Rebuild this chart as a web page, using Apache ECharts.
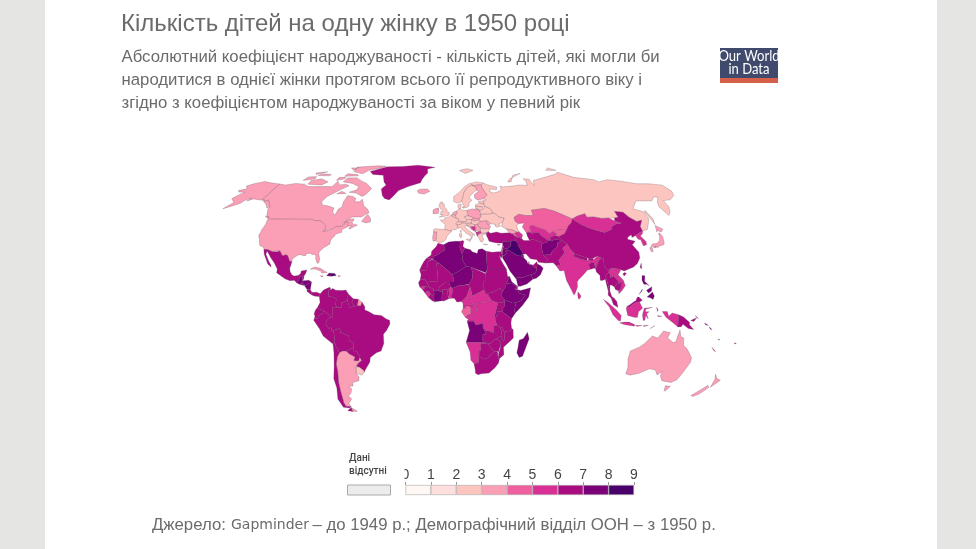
<!DOCTYPE html>
<html><head><meta charset="utf-8">
<style>html,body{margin:0;padding:0;background:#e5e5e3}#c{width:976px;height:549px}</style>
<script src="https://cdn.jsdelivr.net/npm/echarts@6/dist/echarts.min.js"></script>
</head><body><div id="c"></div>
<script>
const titleText = "Кількість дітей на одну жінку в 1950 році";
const subtitleLines = ["Абсолютний коефіцієнт народжуваності - кількість дітей, які могли би","народитися в однієї жінки протягом всього її репродуктивного віку і","згідно з коефіцієнтом народжуваності за віком у певний рік"];
const legendTicks = [0,1,2,3,4,5,6,7,8,9];
const binColors = ["#fff7f3","#fde0dd","#fcc5c0","#fa9fb5","#f0609f","#d93095","#a90c80","#7a0177","#49006a"];

const countries = ["Canada","USA","Greenland","Mexico","Guatemala","Belize","El Salvador","Honduras","Nicaragua","Costa Rica","Panama","Cuba","Haiti","Dominican Rep.","Jamaica","Puerto Rico","Trinidad","Colombia","Venezuela","Guyana","Suriname","French Guiana","Brazil","Ecuador","Peru","Bolivia","Paraguay","Uruguay","Argentina","Chile",
"Iceland","Ireland","UK","Norway","Svalbard","Sweden","Finland","Denmark","Estonia","Latvia","Lithuania","Poland","Germany","Netherlands","Belgium","France","Spain","Portugal","Switzerland","Austria","Italy","Czechia","Slovakia","Hungary","Slovenia","Croatia","Bosnia","Serbia","Montenegro","Albania","N. Macedonia","Greece","Bulgaria","Romania","Moldova","Ukraine","Belarus","Russia",
"Turkey","Georgia","Armenia","Azerbaijan","Kazakhstan","Uzbekistan","Turkmenistan","Kyrgyzstan","Tajikistan","Afghanistan","Pakistan","Iran","Iraq","Syria","Lebanon","Israel","Jordan","Saudi Arabia","Kuwait","Yemen","Oman","UAE","Qatar","Cyprus",
"India","Bangladesh","Nepal","Bhutan","Sri Lanka","China","Taiwan","Mongolia","N. Korea","S. Korea","Japan","Myanmar","Thailand","Laos","Vietnam","Cambodia","Malaysia","Indonesia","PNG","Solomon Is.","Vanuatu","New Caledonia","Fiji","Philippines","Australia","New Zealand",
"Morocco","W. Sahara","Algeria","Tunisia","Libya","Egypt","Mauritania","Mali","Senegal","Guinea-Bissau","Guinea","Sierra Leone","Liberia","Ivory Coast","Ghana","Burkina Faso","Togo","Benin","Niger","Nigeria","Chad","Cameroon","CAR","Sudan","S. Sudan","Eritrea","Ethiopia","Djibouti","Somalia","Kenya","Uganda","Tanzania","Rwanda","Burundi","DR Congo","Congo","Gabon","Eq. Guinea","Angola","Zambia","Malawi","Mozambique","Zimbabwe","Namibia","Botswana","South Africa","Madagascar"];
const fertility = [3.6,3.3,6.5,6.7,7.0,6.7,6.4,7.5,7.0,6.6,6.2,3.9,7.6,8.2,4.2,5.0,5.3,6.7,6.5,6.1,6.3,3.8,6.1,6.7,6.9,6.7,6.5,2.7,3.2,6.4,
3.7,3.4,2.2,2.6,2.6,2.2,3.0,2.6,2.5,2.5,2.8,3.6,2.2,3.0,2.3,2.8,2.5,3.0,2.3,2.1,2.4,2.7,3.5,2.6,2.8,2.9,5.0,3.2,4.5,5.6,5.5,2.3,2.5,3.0,3.5,2.8,2.6,2.9,
6.7,3.0,4.5,5.0,4.5,5.8,6.0,4.6,6.0,7.6,6.6,6.9,8.4,7.2,5.7,4.3,7.4,7.2,7.2,7.3,7.2,6.9,6.9,3.6,
5.9,6.7,6.0,6.6,5.9,6.1,6.7,5.5,5.0,5.6,3.0,6.0,6.1,5.9,5.4,6.3,6.8,5.5,6.2,7.2,7.3,5.3,6.6,7.4,3.2,3.6,
6.6,6.6,7.3,6.9,7.3,6.6,6.3,6.9,6.3,5.6,6.4,5.5,6.1,7.5,6.4,6.1,6.6,5.9,7.5,6.4,6.3,5.5,5.5,6.7,6.7,7.0,7.2,6.3,7.2,7.4,6.9,6.7,7.5,6.8,5.9,5.7,4.0,5.6,7.3,6.7,6.8,6.6,6.8,5.5,6.5,6.4,7.3];

const outlines = {
"Canada":["-141,69.6 -135,69 -128,70 -120,69.5 -115,68 -108,68 -100,68 -95,68 -94,71.5 -90,69 -85,69.5 -81.5,68.5 -87,65.5 -93,62 -94.5,59 -92.5,57 -88,56.5 -82.5,55.2 -82,52.9 -79.5,51.3 -79,52.5 -79,54.5 -77,56 -78,58.5 -77.5,62.4 -73,62 -70,60.8 -69.5,58.8 -66,58.8 -64.5,60.3 -61.5,56.5 -57.5,54.5 -55.7,52.5 -58.5,51.3 -60,50.2 -66.5,50.2 -69,48.5 -71,46.9 -68,48.8 -65,49.2 -64.5,48.2 -65.5,47.3 -64,46.2 -61,45.8 -63.5,44.6 -65.8,43.5 -66,44.3 -64.5,45.3 -67,45.1 -67.8,45.7 -67.8,47.07 -68.3,47.3 -69.2,47.45 -70.3,46.2 -70.8,45.4 -71.5,45 -74.7,45 -76.3,44.2 -76.8,43.6 -79,43.3 -79,42.8 -82.7,41.7 -83.1,42.2 -82.5,42.6 -82.1,43.6 -82.5,45.3 -83.5,46 -84.5,46.5 -84.9,46.9 -88.4,48.3 -89.6,48 -92,48.3 -94.6,48.7 -95.2,49 -123,49 -127,50.8 -130,54.5 -130,55.9 -133.5,58.4 -135.5,59.7 -137.5,58.9 -139,60 -141,60.3",
"-61.5,66.5 -64,63 -66,62 -72,64 -78,64.5 -73,66 -73,68 -80,70 -89,71 -88,73.5 -80,73.7 -75,72 -68,70 -62,67","-105,69 -117,69.5 -118,72 -110,73 -102,71","-116,73 -125,72 -124,74.3 -117,74.5","-62,82.5 -70,83 -90,81.7 -88,78 -78,76.5 -75,79 -66,81","-80,75 -92,74.7 -92,76.5 -82,76","-90,79 -95,81 -88,81","-106,75 -117,75.3 -115,76.5 -106,76","-90,73 -96,72 -96,74 -90,74","-59,47.7 -55.5,46.9 -52.7,47.5 -53.5,49.5 -56,51.5 -57.5,50.5","-123.5,48.4 -128,50.7 -125,50.3","-84,65 -80,63.8 -87,63.5","-113,78 -120,76 -122,77"],
"USA":["-124.7,48.4 -123,49 -95.2,49 -94.6,48.7 -92,48.3 -89.6,48 -88.4,48.3 -84.9,46.9 -84.5,46.5 -83.5,46 -82.5,45.3 -82.1,43.6 -82.5,42.6 -83.1,42.2 -82.7,41.7 -79,42.8 -79,43.3 -76.8,43.6 -76.3,44.2 -74.7,45 -71.5,45 -70.8,45.4 -70.3,46.2 -69.2,47.45 -68.3,47.3 -67.8,47.07 -67.8,45.7 -67,44.9 -69,44 -70.2,43.6 -70.7,42.7 -70,41.8 -71.3,41.5 -73.9,40.7 -74.2,39.6 -75.4,38.4 -75.9,37.2 -75.7,35.5 -77,34.6 -78.5,33.8 -80,32.6 -81.3,31.3 -81.4,30.4 -80.5,28.4 -80,26.8 -80.3,25.3 -81.1,25.1 -81.8,26.1 -82.7,27.7 -82.8,29 -84,30 -85.3,29.7 -86.5,30.4 -89,30.4 -89.4,29.2 -90.5,29.2 -92,29.6 -94,29.7 -95.5,28.7 -97.2,27.6 -97.2,25.95 -99.1,26.4 -99.5,27.5 -101,29.4 -102.7,29.7 -103.2,29 -104.5,29.6 -106.5,31.75 -108.2,31.75 -108.2,31.33 -111.1,31.33 -114.8,32.5 -117.1,32.53 -117.3,33.1 -118.5,34 -120.6,34.6 -121.9,36.6 -122.5,37.8 -123.8,39.3 -124.4,40.4 -124.1,41.9 -124.5,42.8 -124,46.2",
"-141,69.6 -141,60.3 -139,60 -137.5,58.9 -135.5,59.7 -133.5,58.4 -130,55.9 -131.5,55.2 -134,57 -136.5,58.2 -140,59.7 -144,60 -148,60.5 -151.5,59.3 -150.5,61.2 -153.5,59.5 -154.5,58 -158,56.5 -163,54.8 -160,58.5 -162,59.3 -165,60.7 -163,63 -161,64.5 -166,64.6 -168,65.6 -163,66.6 -166.5,68.3 -163,69.8 -156.5,71.3 -150,70.4"],
"Greenland":["-73,78.2 -68,76 -58,75.5 -54,71 -51,69 -53.5,66.5 -50.5,62.5 -48,60.8 -44,59.9 -42,62 -39,65.5 -32,68 -22.5,70.5 -22,72.5 -20,75 -18,77 -19,80 -12,81.5 -30,83.5 -45,82.3 -60,82 -65,80.5"],
"Mexico":["-117.1,32.53 -114.8,32.5 -111.1,31.33 -108.2,31.33 -108.2,31.75 -106.5,31.75 -104.5,29.6 -103.2,29 -102.7,29.7 -101,29.4 -99.5,27.5 -99.1,26.4 -97.2,25.95 -97.8,22.3 -97.2,20.6 -95.9,18.9 -94.5,18.2 -92,18.6 -90.6,19.5 -90.4,21 -87,21.5 -87.5,19.5 -88.2,18.5 -89.15,17.9 -91,17.8 -90.9,16.8 -92.2,14.55 -94,16 -96.5,15.7 -99.5,16.6 -102,18 -105.5,20 -105.5,22 -108,25.2 -109.4,26.6 -111,28 -112.8,30 -114.7,31.7 -114.7,30 -112,26.5 -110,24.2 -109.5,23 -112,24.7 -114,27.5 -115.8,30"],
"Guatemala":["-92.2,14.55 -90.9,16.8 -91,17.8 -89.15,17.9 -89.15,15.9 -88.2,15.7 -89.2,14.5 -90.1,13.75"],
"Belize":["-89.15,17.9 -88.2,18.5 -88.3,16.5 -89.15,15.9"],
"El Salvador":["-90.1,13.75 -89.2,14.5 -87.7,13.8 -87.8,13.2"],
"Honduras":["-89.2,14.5 -88.2,15.7 -85,16 -83.2,15 -85,14 -87.3,13 -87.8,13.2 -87.7,13.8"],
"Nicaragua":["-87.3,13 -85,14 -83.2,15 -83.6,11 -85.7,11.1"],
"Costa Rica":["-85.7,11.1 -83.6,11 -82.6,9.5 -83,8.3 -85.5,10"],
"Panama":["-83,8.3 -82.6,9.5 -79.5,9.6 -77.4,8.7 -77.9,7.2 -80.3,7.4 -81.5,7.7"],
"Cuba":["-84.9,21.9 -82.5,23.1 -79,22.5 -75.5,20.7 -74.2,20.2 -77.7,19.9 -78,20.8 -82,22"],
"Haiti":["-74.4,18.4 -71.7,18.1 -71.7,19.8 -73,19.9"],
"Dominican Rep.":["-71.7,18.1 -68.4,18.5 -69.5,19.6 -71.7,19.8"],
"Jamaica":["-78.3,18.4 -76.3,18.2 -77.2,17.8"],
"Puerto Rico":["-67.2,18.4 -65.7,18.3 -65.9,18 -67.2,18"],
"Trinidad":["-61.7,10.2 -61,10.6 -61,10.1"],
"Colombia":["-77.4,8.7 -75.5,10.7 -72,12.2 -71.3,11.8 -72.5,10.5 -72.4,7.4 -70,7 -67.5,6.1 -67.8,2.8 -66.9,1.2 -69.8,1.7 -69.9,-4.2 -70.7,-3.8 -72,-2.5 -75.2,-0.1 -77.5,0.4 -78.8,1.4 -77.3,4 -77.9,7.2"],
"Venezuela":["-71.3,11.8 -71.5,10.8 -69.8,11.5 -68,10.6 -64,10.5 -62,10.7 -60,8.5 -61,6.8 -60.7,5.2 -63,4 -64.5,4.1 -64,1.5 -66.9,1.2 -67.8,2.8 -67.5,6.1 -70,7 -72.4,7.4 -72.5,10.5"],
"Guyana":["-60,8.5 -57.2,6 -58,4 -56.5,1.9 -59,1.3 -59.9,3 -60.7,5.2 -61,6.8"],
"Suriname":["-57.2,6 -54,5.8 -54.5,2.3 -56.5,1.9 -58,4"],
"French Guiana":["-54,5.8 -51.7,4.2 -52.5,2.2 -54.5,2.3"],
"Brazil":["-51.7,4.2 -50,1.7 -50,0 -48,-0.7 -44.3,-2.6 -40,-2.9 -37,-4.8 -35,-5.5 -34.8,-7.5 -37,-11 -39,-13 -39,-18 -41,-22 -44,-23 -48,-25.5 -48.6,-28 -52,-32 -53.4,-33.7 -53.2,-32.7 -55.5,-30.9 -57.6,-30.2 -55.8,-28.3 -53.7,-27.1 -54.6,-25.6 -54.3,-24 -55.5,-24 -55.9,-22.3 -58,-22 -58,-20 -57.6,-18 -60.2,-16.2 -60.3,-13.8 -65.3,-11.9 -65.4,-9.8 -69.5,-11 -70.6,-11 -70.7,-9.4 -72.2,-10 -74,-7.5 -73,-5 -70.7,-3.8 -69.9,-4.2 -69.8,1.7 -66.9,1.2 -64,1.5 -64.5,4.1 -63,4 -60.7,5.2 -59.9,3 -59,1.3 -56.5,1.9 -54.5,2.3 -52.5,2.2"],
"Ecuador":["-78.8,1.4 -77.5,0.4 -75.2,-0.1 -75.5,-1.6 -78.3,-3.4 -78.6,-4.6 -80.3,-4.5 -80.3,-3.4 -80.9,-2.2 -80,0"],
"Peru":["-75.2,-0.1 -72,-2.5 -70.7,-3.8 -73,-5 -74,-7.5 -72.2,-10 -70.7,-9.4 -70.6,-11 -69.5,-11 -69,-15.5 -69.5,-17.5 -70.4,-18.3 -76,-14 -78,-10 -81.2,-5.5 -80.3,-3.4 -80.3,-4.5 -78.6,-4.6 -78.3,-3.4 -75.5,-1.6"],
"Bolivia":["-69.5,-11 -65.4,-9.8 -65.3,-11.9 -60.3,-13.8 -60.2,-16.2 -57.6,-18 -58,-20 -62.6,-22.2 -65,-22.1 -67,-23 -68.5,-20 -69.5,-17.5 -69,-15.5"],
"Paraguay":["-58,-20 -58,-22 -55.9,-22.3 -55.5,-24 -54.3,-24 -54.6,-25.6 -55.7,-27.4 -58.6,-27.2 -57.7,-25.2 -61,-23.7 -62.6,-22.2"],
"Uruguay":["-57.6,-30.2 -55.5,-30.9 -53.2,-32.7 -53.4,-33.7 -54.9,-35 -58.4,-34 -58.1,-32"],
"Argentina":["-65,-22.1 -62.6,-22.2 -61,-23.7 -57.7,-25.2 -58.6,-27.2 -55.7,-27.4 -54.6,-25.6 -53.7,-27.1 -55.8,-28.3 -57.6,-30.2 -58.1,-32 -58.4,-34 -57,-36 -57.6,-38 -62,-39 -62.3,-40.8 -65,-41 -63.7,-42.5 -65.3,-45 -67.5,-46.3 -65.8,-47.8 -69,-50.5 -68.4,-52.3 -71.9,-52 -72.3,-50 -71.7,-44 -71.2,-39 -70,-33 -70,-29 -68.5,-25 -67,-23","-68.6,-52.7 -65.2,-54.8 -68.6,-54.9"],
"Chile":["-70.4,-18.3 -69.5,-17.5 -68.5,-20 -67,-23 -68.5,-25 -70,-29 -70,-33 -71.2,-39 -71.7,-44 -72.3,-50 -71.9,-52 -68.4,-52.3 -70,-53 -74,-52.5 -75.5,-48 -73.5,-42 -73.7,-37 -71.5,-30 -70.4,-23","-68.6,-52.7 -68.6,-54.9 -72,-54.5"],
"Iceland":["-24,65.5 -22,66.4 -16,66.5 -13.6,65 -18,63.4 -22.5,63.9"],
"Ireland":["-10,52 -6.3,52.2 -6,53.5 -6,54.2 -7.3,55.2 -10,54.2"],
"UK":["-5.5,50 -1,50.7 1.4,51.2 1.7,52.7 0.2,53 -0.2,54.5 -2,55.8 -2,57.6 -4,57.7 -3,58.6 -5,58.6 -6,56.5 -4.8,54.8 -3,54 -3,53.3 -4.5,53.2 -4.2,52 -5.2,51.8 -3,51.4","-6,54.2 -5.5,54.5 -6.3,55.2 -7.3,55.2"],
"Norway":["5,59 5.2,61.9 10,64.5 14.5,68 19,70 25.5,71 31,70.2 29,69.1 25.8,69 23,68.6 20.5,69 16,67 13.6,64.5 12,61 11,59 8,58"],
"Svalbard":["12,79 20,80.3 25,79 17,76.7"],
"Sweden":["11,59 12,61 13.6,64.5 16,67 20.5,69 23.6,67.8 24,65.8 21.5,64.5 17.5,62 17.5,60.5 19,59.8 16.5,58 16,56.2 14.3,55.5 12.9,55.4 12,57.5"],
"Finland":["23.6,67.8 20.5,69 23,68.6 25.8,69 29,69.1 28.5,68 30,65 31.5,62.8 27.8,60.5 23,59.9 21.3,61 21.3,63 25.3,65 24,65.8"],
"Denmark":["8.1,55.5 8.1,57 10.6,57.7 10.3,55.9 9.7,54.85 8.6,54.9","11,55.7 12.5,56 12.4,55"],
"Estonia":["23.5,59.2 28,59.4 27.4,57.6 24.4,58"],
"Latvia":["21,57 23.5,57.8 24.4,58 27.4,57.6 28.2,56.1 26,55.7 21,56.3"],
"Lithuania":["21,56.3 26,55.7 26.6,54.9 25,54 23.4,54 21,55.2"],
"Poland":["14.2,53.9 18.5,54.8 19.8,54.4 23.4,54 24,52.3 23.6,51.5 24,50.6 22.7,49.2 19,49.4 14.8,50.9 14.7,52"],
"Germany":["7,53.5 8.6,54.9 9.7,54.85 11,54 14.2,53.9 14.7,52 14.8,50.9 12.2,50.3 13.8,48.7 13,47.5 7.6,47.6 8.2,49 6.2,49.5 6,51 7,52.2"],
"Netherlands":["3.4,51.4 4.8,53 7,53.5 7,52.2 6,51"],
"Belgium":["2.6,51.1 3.4,51.4 6,51 6.2,49.5 4.9,50"],
"France":["2.6,51.1 4.9,50 6.2,49.5 8.2,49 7.6,47.6 6,46.4 7,45.9 7,44 7.5,43.8 6,43.1 3.5,43.3 3.1,42.4 -1.7,43.3 -1.2,46 -4.7,48.4 -1.6,48.7 -1.6,49.7 1.5,50.2","8.6,42.4 9.5,43 9.4,41.5"],
"Spain":["-1.7,43.3 3.1,42.4 3.2,41.9 0,39.8 -0.5,38.3 -2,36.8 -5.4,36.1 -7.4,37.2 -7,39 -6.9,41.9 -8.9,41.9 -9.2,43.1 -8,43.7"],
"Portugal":["-8.9,41.9 -6.9,41.9 -7,39 -7.4,37.2 -9,37 -9.5,38.8"],
"Switzerland":["6,46.4 7.6,47.6 9.6,47.5 10.4,46.9 9,46 7,45.9"],
"Austria":["9.6,47.5 13,47.5 13.8,48.7 17,48.8 17,47 16,46.8 12.4,46.7 10.4,46.9"],
"Italy":["7,45.9 9,46 10.4,46.9 12.4,46.7 13.7,46.5 13.7,45.6 12.3,45.3 12.4,44.2 13.6,43.5 16,41.9 18.5,40.2 17,40.5 16.6,39 16,38 15.7,39.8 12.5,41.4 10.5,43 8.8,44.4 7.5,43.8 7,44","12.5,38 15.6,38.2 15.1,36.7","8.2,41 9.7,41 9.6,39.1 8.5,39"],
"Czechia":["12.2,50.3 14.8,50.9 16.8,50.2 18.8,49.5 17,48.8 13.8,48.7"],
"Slovakia":["17,48.8 18.8,49.5 19,49.4 22.7,49.2 22.1,48.4 18.8,47.8"],
"Hungary":["16,46.8 17,47 17,48.8 18.8,47.8 22.1,48.4 22.9,47.9 21,46.2 18.8,45.9 16.5,46.5"],
"Slovenia":["13.7,46.5 16,46.8 16.5,46.5 15.3,45.5 13.7,45.6"],
"Croatia":["13.6,45 13.7,45.6 15.3,45.5 16.5,46.5 18.8,45.9 19,45 15.8,44.8 17.5,43 18.4,42.5 16,43.5 15,44.6"],
"Bosnia":["15.8,44.8 19,45 19.5,44 18.5,42.6 17.5,43"],
"Serbia":["19,45 18.8,45.9 21,46.2 21.4,44.8 22.6,44.2 22.4,42.5 20.8,42 19.6,43.1 19.5,44"],
"Montenegro":["18.5,42.6 19.6,43.1 20.2,42.7 19.3,41.9 18.4,42.5"],
"Albania":["19.3,41.9 20.6,41.9 21,40.6 20,39.7 19.4,40.7"],
"N. Macedonia":["20.6,41.9 20.8,42 22.4,42.5 23,41.3 21,40.9"],
"Greece":["20,39.7 21,40.6 23,41.3 26.3,41.6 26,40.9 23,40.3 24,38 23,36.5 21.7,36.8 21.2,38.3","23.5,35.5 26.3,35.2 24.5,35"],
"Bulgaria":["22.4,42.5 22.6,44.2 25,43.7 28.6,43.8 27.7,42 26.3,41.6 23,41.3"],
"Romania":["21,46.2 22.9,47.9 24.9,47.8 26.6,48.3 28.2,45.5 29.7,45.1 28.6,43.8 25,43.7 22.6,44.2 21.4,44.8"],
"Moldova":["26.6,48.3 28.3,48 30,46.4 28.2,45.5"],
"Ukraine":["22.7,49.2 24,50.6 23.6,51.5 26,51.9 31,52 32,52.3 34.2,52.3 36,50.4 40,49.6 38.2,47.1 35,46.2 36.5,45.3 33.5,44.5 32.5,45.5 33.5,46 30.8,46.4 30,46.4 28.3,48 26.6,48.3 24.9,47.8 22.9,47.9 22.1,48.4"],
"Belarus":["23.6,51.5 24,52.3 23.4,54 25,54 26.6,54.9 28.2,56.1 31,55 32.7,53.4 31,52 26,51.9"],
"Russia":["31,70.2 33,69.3 41,67.6 40,66 35,66.5 34,65 37,64 40.5,64.7 44,66 44,68.4 46,67.8 54,68.3 60,69 67,68.8 68,71.5 67,73 72,72.8 72.5,68.5 75,72 78,72.5 87,74 100,76.3 104,77.7 113,74 112,73.8 128,72.5 130,71 140,72.5 150,71.5 160,69.8 170,69.8 180,68.9 180,65 177,62.5 170,60 164,59.5 163,56 160,53 156.7,51 155.7,56 158,58.5 163,61.5 160,61.7 155,59.3 143,59.3 135.2,54.8 141.4,53 140.5,49 135,43.5 130.7,42.3 131,44.9 135,48.4 131,47.7 127.5,50 126,52.8 120.5,53.3 120,50 117,49.6 113,49.6 108,49.4 103,50.2 98,50 98,52 91.8,50.7 87.3,49.1 83,51 77,53.5 71,55 61,54 61,51 55,51 51,51.7 47,50 47,48 49,46.5 47.5,45.5 47.5,43.5 48.4,41.8 46.5,41.9 43.5,43.2 40,43.5 37,45 38.2,47.1 40,49.6 36,50.4 34.2,52.3 32,52.3 32.7,53.4 31,55 28.2,56.1 27.4,57.6 28,59.4 30,60 27.8,60.5 31.5,62.8 30,65 28.5,68 29,69.1","52,71 55,73 68,76.8 60,75.5 55,71","142,46 143.5,49 143,54 142,53 142,48","95,79 105,79 100,81","21,55.2 22.8,54.4 19.8,54.4"],
"Turkey":["26.3,41.6 27.7,42 29,41.2 33,42 36,41.3 41.5,41.5 43.5,41 44.8,39.7 44.5,37.2 42.4,37.1 36.7,36.8 36,36 32.5,36 30.5,36.3 27.4,37 26.5,39.3 26,40"],
"Georgia":["40,43.5 43.5,43.2 46.5,41.9 45,41.2 43.5,41 41.5,41.5"],
"Armenia":["43.5,41 45,41.2 46.5,39 44.8,39.7"],
"Azerbaijan":["46.5,41.9 48.4,41.8 50,40.4 48.9,38.4 46.5,39 45,41.2"],
"Kazakhstan":["47,48 47,50 51,51.7 55,51 61,51 61,54 71,55 77,53.5 83,51 87.3,49.1 85.5,47 82.5,45.3 80,42.8 74.5,43.2 71,42.3 68,41 66,43 61,44.4 58.5,45.6 56,45 56,41.3 54.7,42 52.8,41.5 51,44.6 53,46.8 49,46.5"],
"Uzbekistan":["56,45 58.5,45.6 61,44.4 66,43 68,41 71,42.3 73,40.8 71,40 67.8,39 67.4,37.3 66,37.4 62,40 61,41.8 57,41.3 56,41.3"],
"Turkmenistan":["52.8,41.5 54.7,42 56,41.3 57,41.3 61,41.8 62,40 66,37.4 64.5,36.3 61.2,35.6 61,36.6 56,38 53.9,37.4 53,39.5"],
"Kyrgyzstan":["71,42.3 74.5,43.2 80,42.8 78,41 73.7,39.5 71,40 73,40.8"],
"Tajikistan":["67.4,37.3 67.8,39 71,40 73.7,39.5 75,37.3 71.5,37.9 70,37.7 68,37"],
"Afghanistan":["61.2,35.6 64.5,36.3 66,37.4 67.4,37.3 68,37 70,37.7 71.5,37.9 74.9,37.3 71.5,36 71,34 69.3,33 66.5,31 66.3,29.8 61,29.6 60.8,31.4 60.7,33.5"],
"Pakistan":["61,29.6 66.3,29.8 66.5,31 69.3,33 71,34 71.5,36 74.9,37.3 77.8,35.5 74,33 75,31 71.5,28 70,26.5 71,24.4 68.2,23.7 66.5,25.4 61.6,25.2 63.2,27"],
"Iran":["44.8,39.7 46.5,39 48.9,38.4 50,37.3 53.9,37.4 56,38 61,36.6 61.2,35.6 60.7,33.5 60.8,31.4 61,29.6 63.2,27 61.6,25.2 57.3,25.7 56.5,27 52.5,27.5 50,30.2 48.6,30 47.8,31 45.6,35 46,35.8 44.5,37.2"],
"Iraq":["42.4,37.1 44.5,37.2 46,35.8 45.6,35 47.8,31 48.6,30 47.5,30 47,29 44.7,29.2 39,32.2 39,33.3 41,34.4 41,36"],
"Syria":["36,36 36.7,36.8 42.4,37.1 41,36 41,34.4 39,33.3 36,32.6 35.8,33.2 36.6,34.2 35.9,34.6 35.9,35"],
"Lebanon":["35.2,33.1 35.9,34.6 36.6,34.2 35.8,33.2"],
"Israel":["34.3,31.3 35.2,33.1 35.8,33.2 35.4,31.5 35,29.6"],
"Jordan":["35.8,33.2 36,32.6 39,33.3 39,32.2 37,31.5 38,30.5 36,29.2 35,29.6 35.4,31.5"],
"Saudi Arabia":["36,29.2 38,30.5 37,31.5 39,32.2 44.7,29.2 47,29 48.5,28 50,26.5 50.5,25 51.5,24.4 52.6,24.2 55.1,22.7 55.7,22 55,20 52,19 48.9,18.2 46.5,17.3 43.3,17.4 42.7,16.5 39,21 37.2,24.5 35,28 35,29.6"],
"Kuwait":["47,29 47.5,30 48.4,29.4 48.5,28"],
"Yemen":["43.3,17.4 46.5,17.3 48.9,18.2 52,19 53,16.6 49,14 45,12.8 43.5,12.7 42.7,16.5"],
"Oman":["52,19 55,20 55.7,22 56.4,24.9 58.7,23.6 59.8,22.4 57.8,19 55,17 53,16.6"],
"UAE":["51.5,24.4 52.6,24.2 55.1,22.7 55.7,22 56.4,24.9 56.3,26 54,24.2"],
"Qatar":["50.8,24.8 51.6,25 51.3,26.1"],
"Cyprus":["32.3,35 34.5,35.6 33.6,34.7"],
"India":["68.2,23.7 71,24.4 70,26.5 71.5,28 75,31 74,33 77.8,35.5 79,32.5 81,30.2 80,28.8 84,27.4 88.2,26.4 89,26.8 92,26.9 95,29 97.3,28 95.2,26.5 93.5,24 92.5,22 92,24.5 92,25.2 89.8,25.3 88.5,24.3 89,21.9 87,21.4 85,19.5 81,16.3 80,15 80,12.5 78.2,8.9 77.5,8 76,11 73.5,16 72.8,20 72.7,21.2 70,21"],
"Bangladesh":["89,21.9 88.5,24.3 89.8,25.3 92,25.2 92,24.5 92.5,22 91.5,22.5 90,22"],
"Nepal":["81,30.2 88.2,27.9 88.2,26.4 84,27.4 80,28.8"],
"Bhutan":["89,26.8 89,28 92,27.8 92,26.9"],
"Sri Lanka":["79.8,8 80,9.8 81.8,7.5 81,6.1 80,6"],
"China":["73.7,39.5 78,41 80,42.8 82.5,45.3 85.5,47 87.3,49.1 91,46.5 95.5,44.2 101,42.6 105,41.7 111,43.5 112,45 116,46.5 119.9,46.7 116,48 117,49.6 120,50 120.5,53.3 126,52.8 127.5,50 131,47.7 135,48.4 131,44.9 130.7,42.3 128,41.5 124.4,40 121.5,39 122,40.5 119,39.2 118,38 122.5,37 119.5,35 122,31 121.5,28 119,25 116,23 113,22 110,21 108,21.6 106.7,22 102,22.4 101,21.5 99,22 98,24 98.5,27.5 97.3,28 95,29 92,27.8 89,28 88.2,27.9 81,30.2 79,32.5 77.8,35.5 74.9,37.3","108.7,19.3 110,20.1 111,19.7 109.5,18.2"],
"Taiwan":["120.2,23 121.5,25.2 121,22"],
"Mongolia":["87.3,49.1 91.8,50.7 98,52 98,50 103,50.2 108,49.4 113,49.6 116,48 119.9,46.7 116,46.5 112,45 111,43.5 105,41.7 101,42.6 95.5,44.2 91,46.5"],
"N. Korea":["124.4,40 128,41.5 130.7,42.3 129.7,41 127.5,39.8 128.3,38.6 126.7,37.8 125,38"],
"S. Korea":["126.7,37.8 128.3,38.6 129.4,37 129,35.2 126.5,34.4 126.5,37"],
"Japan":["131,34 132.8,35.5 136,35.8 138.5,37.3 140,39.5 140.5,41.2 141.5,41.4 142,39.5 140.8,36 139.8,35 136.8,34.4 135.5,33.6 132.5,34.2","130,33.5 131.7,33.6 131.3,31.4 130.2,31.3","132.5,33.7 134.5,34.2 134,33.4","140,42 141.7,45.5 145.3,43.5 143,42 141,42.7"],
"Myanmar":["92.5,22 93.5,24 95.2,26.5 97.3,28 98.5,27.5 98,24 99,22 101,21.5 100,20.3 97.8,18 98.6,15 99.2,11 98.6,10 98,13 97.5,16.5 95.5,15.8 94.3,16 94.5,18.5 92.5,20.5"],
"Thailand":["97.8,18 100,20.3 101,19.5 101,17.5 103,18.3 105.5,15.5 102.6,12.3 100.8,13.4 100,13.4 99.5,10.5 100.5,7.2 102,6.2 101,5.7 100,6.5 98.3,8 98.6,10 99.2,11 98.6,15"],
"Laos":["101,21.5 102,22.4 103,20.8 104.5,19.5 107,16 107.5,14.7 105.5,14.3 105.5,15.5 103,18.3 101,17.5 101,19.5 100,20.3"],
"Vietnam":["102,22.4 106.7,22 108,21.6 105.8,19 108.5,16 109.3,13 107,10.5 105,8.7 104.8,10.4 106,11 107.5,14.7 107,16 104.5,19.5 103,20.8"],
"Cambodia":["102.6,12.3 105.5,15.5 105.5,14.3 107.5,14.7 106,11 104.8,10.4 103,11"],
"Malaysia":["100,6.5 101,5.7 102,6.2 103.4,4.5 104,1.4 101.3,2.9 100.3,5.6","109.6,2 111,1.5 113,3 115,4 117.2,4.3 119,5.2 117,7 116,6.8 115,5 114,4.5 111.3,2.8"],
"Indonesia":["95.3,5.6 98,4 103,0 106,-3 105.8,-5.8 104.5,-5.8 101,-2.5 98.7,1.7","105.3,-6.8 108.5,-6.5 111,-6.5 114.5,-7.8 114.4,-8.7 108,-7.8","109,1 109.6,2 111,1.5 113,3 115,4 117.2,4.3 119,1 116.5,-1 116,-3.9 114.5,-4 110,-2.9","119.5,-5.6 119,-2.5 120,1 125,1.4 121,0.5 120.7,-1 123,-0.9 121.5,-2 122.5,-4.8 121,-3 120.5,-5.5","141,-2.6 137,-1.6 135,-3.3 134,-0.8 131,-0.8 132.5,-2.8 133.5,-4 138,-7 141,-9.1","124,-10 127,-8.4 125,-9.4","115,-8.3 119,-8.3 116,-8.8","120,-8.3 123,-8.3 120,-8.9","127.5,1.5 128.5,0 128,-0.8 127.7,0.5","128,-3 130.8,-3.4 128.5,-3.5"],
"PNG":["141,-2.6 144,-3.8 147,-6 147.8,-6.5 148,-8 150.8,-10.5 147.5,-10 144,-7.7 143,-9 141,-9.1","148.5,-5.6 152,-4.2 150.5,-6.2","151,-3 153,-4.7 152.3,-3.7"],
"Solomon Is.":["157,-7 159.5,-8.2 158,-8","160,-9 162,-10.5 161,-10.3"],
"Vanuatu":["167.2,-15.5 167.8,-16.2 167,-16"],
"New Caledonia":["164,-20 167,-22.3 166,-22"],
"Fiji":["177.5,-17.6 178.6,-18 177.5,-18.2"],
"Philippines":["120.5,18.5 122.2,18.4 121.5,15.5 124,13 122.5,13.8 120.8,13.8 120,16","122,7 125.5,9.7 126.5,7.5 125.5,5.7 124,6.6","122,10.6 125.5,12.5 125,10.2 123,9.2","117.2,8.4 119.5,11.2 119.3,10.3"],
"Australia":["114,-22 113.5,-26 115,-31 115,-34.3 118,-35 123.5,-34 129,-31.6 133,-32.2 135.5,-34.9 137.7,-33 138,-35.5 140.5,-38 144,-38.5 147,-38.9 150,-37.5 151.5,-33.5 153.5,-28 153,-25.5 149,-21 146.3,-19 145.4,-15 143.5,-14.2 142.5,-10.7 141.6,-14 141,-17 139.5,-17.5 135.5,-15 136.8,-12.2 132.5,-11.3 129.5,-15 126,-14 122,-18 119,-20","144.7,-40.7 148.3,-41 147,-43.5 146,-43.5"],
"New Zealand":["173,-34.5 175.5,-36.8 178.5,-37.7 177,-39.5 175.3,-41.6 174.8,-39.8 174.7,-37.5","172.7,-40.5 174.3,-41.7 172.8,-43.6 171,-45.5 168.5,-46.6 166.5,-46 170,-43"],
"Morocco":["-5.9,35.8 -2.2,35.1 -1.7,33.7 -1.2,32.2 -3.6,31 -5.5,29.8 -8.7,28.7 -8.7,27.7 -13,27.7 -10,29.5 -9.8,31.5 -6.9,34.1"],
"W. Sahara":["-13,27.7 -8.7,27.7 -8.7,27.3 -12,26 -12,23.4 -13,23 -13,21.3 -17,21.4 -16,23.5 -14.5,26"],
"Algeria":["-2.2,35.1 1,36.5 5,36.9 8.6,36.9 8.2,33.5 9.5,30.2 9.9,26.5 11.9,23.5 7.5,20.9 3.3,19 1.2,20.7 -4.8,25 -8.7,27.3 -8.7,28.7 -5.5,29.8 -3.6,31 -1.2,32.2 -1.7,33.7"],
"Tunisia":["8.6,36.9 10.2,37.3 11,36.9 10.2,34.3 11.5,33.2 9.5,30.2 8.2,33.5"],
"Libya":["9.5,30.2 11.5,33.2 15,32.4 16,31.3 19.2,30.3 20,32.5 22.5,32.9 25,31.6 25,22 24,20 24,19.5 15,23 11.9,23.5 9.9,26.5"],
"Egypt":["25,31.6 29,31 32,31.3 34.3,31.3 35,29.6 34.2,27.8 33,29.5 33.8,27 35.5,24 36.9,22 25,22"],
"Mauritania":["-17,21.4 -13,21.3 -13,23 -12,23.4 -12,26 -8.7,27.3 -4.8,25 -6.5,25 -5.5,15.5 -9.3,15.5 -12.2,14.8 -14,16.5 -16.5,16.3 -16,19"],
"Mali":["-12.2,14.8 -9.3,15.5 -5.5,15.5 -6.5,25 -4.8,25 1.2,20.7 3.3,19 4.2,16.9 4.2,15 1,15 -0.5,15 -2,14.2 -4.5,12.5 -5.4,10.4 -6.2,10.5 -8.1,10.3 -8.4,11.4 -11.4,12.3 -11.4,13"],
"Senegal":["-16.5,16.3 -14,16.5 -12.2,14.8 -11.4,13 -11.4,12.3 -13.7,12.6 -16.7,12.4 -17.5,14.7"],
"Guinea-Bissau":["-16.7,12.4 -13.7,12.6 -13.7,11.7 -15,11"],
"Guinea":["-13.7,12.6 -11.4,12.3 -8.4,11.4 -8.1,10.3 -7.7,8.4 -8.5,7.6 -10,8.5 -11,10 -12.4,9.9 -13.3,9 -15,11 -13.7,11.7"],
"Sierra Leone":["-13.3,9 -12.4,9.9 -11,10 -10,8.5 -11.5,6.9"],
"Liberia":["-11.5,6.9 -10,8.5 -8.5,7.6 -7.5,4.4 -9,5"],
"Ivory Coast":["-8.1,10.3 -6.2,10.5 -5.4,10.4 -2.8,9.6 -3.2,6.5 -3,5 -7.5,4.4 -8.5,7.6 -7.7,8.4"],
"Ghana":["-2.8,9.6 -2.8,11 0,11 0.5,8 1.2,6.1 -2,4.8 -3,5 -3.2,6.5"],
"Burkina Faso":["-5.4,10.4 -4.5,12.5 -2,14.2 -0.5,15 1,15 2.3,12.4 1,11 0,11 -2.8,11 -2.8,9.6"],
"Togo":["0,11 1,11 1.6,9 1.6,6.2 1.2,6.1 0.5,8"],
"Benin":["1,11 2.3,12.4 3.6,11.7 3.6,10 2.7,8 2.7,6.3 1.6,6.2 1.6,9"],
"Niger":["1,15 4.2,15 4.2,16.9 3.3,19 7.5,20.9 11.9,23.5 15,23 16,20 15.5,16.8 13.5,14 13,13.5 10,13.3 7,13 3.6,11.7 2.3,12.4"],
"Nigeria":["2.7,6.3 2.7,8 3.6,10 3.6,11.7 7,13 10,13.3 13,13.5 14.2,12.4 13.1,10 11.8,7 8.9,4.6 6,4.3 4.5,6.3"],
"Chad":["24,19.5 24,15.7 22.9,15.5 22,12.7 22.9,11 18.8,9 15.5,7.5 14.2,12.4 13,13.5 13.5,14 15.5,16.8 16,20 15,23"],
"Cameroon":["8.9,4.6 11.8,7 13.1,10 14.2,12.4 15.5,7.5 14.5,6 16,2.2 9.8,2.2 9.8,3.5"],
"CAR":["14.5,6 15.5,7.5 18.8,9 22.9,11 27.4,5 25,5 22.5,4 18.5,3.6 16,2.2"],
"Sudan":["24,19.5 24,20 25,22 36.9,22 37.4,18 38.6,18 36.5,14.3 35.9,12.6 34,10 32.4,11.7 28,9.5 24,8.7 22.9,11 22,12.7 22.9,15.5 24,15.7"],
"S. Sudan":["22.9,11 24,8.7 28,9.5 32.4,11.7 34,10 33,7.8 35,5.5 33.9,4.1 31,3.7 27.4,5"],
"Eritrea":["36.5,14.3 38.6,18 39.8,15.2 43.1,12.7 42.4,12.5 40,14.5 36.9,14.4"],
"Ethiopia":["34,10 35.9,12.6 36.5,14.3 36.9,14.4 40,14.5 42.4,12.5 41.8,11 43,11 44,9 47.9,8 45,5 41.9,3.9 39.8,3.8 35,5.5 33,7.8"],
"Djibouti":["42.4,12.5 43.2,12.7 43.3,11.5 41.8,11"],
"Somalia":["41.9,3.9 45,5 47.9,8 44,9 43,11 43.3,11.5 45,10.5 51.2,11.9 49.8,7 46,2.5 41.5,-1.7 41,-0.8"],
"Kenya":["35,5.5 39.8,3.8 41.9,3.9 41,-0.8 41.5,-1.7 39.3,-4.7 37.7,-3.6 33.9,-1 34,1 35,2"],
"Uganda":["31,3.7 33.9,4.1 35,5.5 35,2 34,1 33.9,-1 30.5,-1 29.6,-1.4 30,1"],
"Tanzania":["30.5,-1 33.9,-1 37.7,-3.6 39.3,-4.7 39,-7 39.5,-10 40.4,-10.4 38,-11.3 34.9,-11.6 34,-9.5 32,-9 30.7,-8.2 29.5,-6 29.3,-4.5 30.5,-2.5"],
"Rwanda":["29,-2.7 29.6,-1.4 30.5,-1 30.5,-2.5"],
"Burundi":["29,-2.7 30.5,-2.5 29.3,-4.5"],
"DR Congo":["18.5,3.6 22.5,4 25,5 27.4,5 31,3.7 30,1 29.6,-1.4 29,-2.7 29.3,-4.5 29.5,-6 30.7,-8.2 28.7,-8.5 28.4,-11.8 29.8,-12.2 27.5,-12 25.3,-11.2 23,-11 22,-9.5 21.8,-7.3 17.5,-8 16.3,-6 12.3,-6 13,-5 16,-3.5 17.8,-0.5"],
"Congo":["13.2,2.2 16,2.2 18.5,3.6 17.8,-0.5 16,-3.5 13,-5 11.2,-4 12.5,-2.5 14.4,-2.2 14.3,1"],
"Gabon":["9.8,1 11.3,1 11.3,2.2 13.2,2.2 14.3,1 14.4,-2.2 12.5,-2.5 11.2,-4 8.8,-1"],
"Eq. Guinea":["9.8,2.2 11.3,2.2 11.3,1 9.8,1"],
"Angola":["12.3,-6 16.3,-6 17.5,-8 21.8,-7.3 22,-9.5 23,-11 24,-13 22,-13 22,-16.2 23.4,-17.6 19,-17.4 14,-17.4 11.8,-17.3 13.8,-11 13,-8.5"],
"Zambia":["22,-13 24,-13 23,-11 25.3,-11.2 27.5,-12 29.8,-12.2 28.4,-11.8 28.7,-8.5 30.7,-8.2 32,-9 33.3,-11 33.2,-14 30.2,-15.6 28.9,-16 27,-17.9 25.3,-17.8 23.4,-17.6 22,-16.2"],
"Malawi":["32,-9 34,-9.5 34.9,-11.6 35.5,-14.5 35,-17 33.2,-14 33.3,-11"],
"Mozambique":["34.9,-11.6 38,-11.3 40.4,-10.4 40.8,-15 35,-20 35.5,-24 32.9,-26 32,-26 32.2,-23 33,-21 33,-19 32.7,-16.5 30.2,-15.6 33.2,-14 35,-17 35.5,-14.5"],
"Zimbabwe":["25.3,-17.8 27,-17.9 28.9,-16 30.2,-15.6 32.7,-16.5 33,-19 32.2,-22.3 29.4,-22.2 27,-20.5"],
"Namibia":["11.8,-17.3 14,-17.4 19,-17.4 23.4,-17.6 25.3,-17.8 21,-18.3 21,-22 20,-22 20,-28.5 17,-28.7 15,-27 14.4,-22.5"],
"Botswana":["21,-18.3 25.3,-17.8 27,-20.5 29.4,-22.2 26.5,-24.7 25.5,-25.8 23,-26.5 20,-24.8 20,-22 21,-22"],
"South Africa":["17,-28.7 20,-28.5 20,-24.8 23,-26.5 25.5,-25.8 26.5,-24.7 29.4,-22.2 31.5,-22.4 32,-26 32.9,-26 32.5,-28.5 30.5,-31 27,-33.9 22,-34.2 20,-34.8 18.3,-34 18,-32"],
"Madagascar":["49.3,-12 50.5,-15.5 47.2,-24.8 45.2,-25.5 43.5,-23 44,-20 44.4,-16.3 47,-15.3"]
};

// Robinson projection lookup, every 5 degrees of latitude
const robA=[1,.9986,.9954,.99,.9822,.973,.96,.9427,.9216,.8962,.8679,.835,.7986,.7597,.7186,.6732,.6213,.5722,.5322];
const robB=[0,.062,.124,.186,.248,.31,.372,.434,.4958,.5571,.6176,.6769,.7346,.7903,.8435,.8936,.9394,.9761,1];
function rob(arr,lat){const t=Math.min(Math.abs(lat),90)/5,i=Math.min(Math.floor(t),17);return arr[i]+(arr[i+1]-arr[i])*(t-i);}
function project(p){const s=p[1]<0?-1:1;return [0.8487*rob(robA,p[1])*p[0]*Math.PI/180,-s*1.3523*rob(robB,p[1])];}
function unproject(p){const b=Math.abs(p[1])/1.3523;let i=0;while(i<17&&robB[i+1]<b)i++;const lat=(i+(b-robB[i])/(robB[i+1]-robB[i]))*5;return [p[0]/(0.8487*rob(robA,lat))*180/Math.PI,p[1]>0?-lat:lat];}

const geoJson={type:"FeatureCollection",features:countries.map(n=>({type:"Feature",properties:{name:n},geometry:{type:"MultiPolygon",coordinates:outlines[n].map(s=>{const r=s.trim().split(/\s+/).map(q=>q.split(",").map(Number));r.push(r[0]);return [r];})}}))};
echarts.registerMap("world",geoJson);

// map placement: scale and origin (equator / prime meridian) on the page
const mapScale=111, originX=447, originY=310;
let x0=1e9,x1=-1e9,y0=1e9,y1=-1e9;
geoJson.features.forEach(f=>f.geometry.coordinates.forEach(pg=>pg[0].forEach(c=>{const q=project(c);x0=Math.min(x0,q[0]);x1=Math.max(x1,q[0]);y0=Math.min(y0,q[1]);y1=Math.max(y1,q[1]);})));

const chart=echarts.init(document.getElementById("c"),null,{renderer:"canvas"});
const textCol="#6b6b6b", font="'Liberation Sans', Arial, sans-serif";
chart.setOption({
 animation:false,
 visualMap:{show:false,type:"piecewise",seriesIndex:0,dimension:0,pieces:binColors.map((c,i)=>({gte:i,lt:i+1,color:c}))},
 grid:{left:405.5,width:228.5,top:485,height:10},
 xAxis:{type:"value",min:0,max:9,interval:1,position:"top",axisLine:{show:false},splitLine:{show:false},
   axisTick:{show:true,inside:false,length:3,lineStyle:{color:"#999"}},
   axisLabel:{color:"#444",fontSize:14,fontFamily:font,margin:3,formatter:v=>String(legendTicks[v])}},
 yAxis:{type:"category",data:[""],show:false},
 series:[
  {type:"map",map:"world",projection:{project,unproject},aspectScale:1,roam:false,silent:true,
   left:originX+x0*mapScale,top:originY+y0*mapScale,width:(x1-x0)*mapScale,height:(y1-y0)*mapScale,
   label:{show:false},emphasis:{disabled:true},select:{disabled:true},
   itemStyle:{borderColor:"rgba(90,70,90,0.42)",borderWidth:0.6},
   data:countries.map((n,i)=>({name:n,value:fertility[i]}))},
  ...binColors.map(c=>({type:"bar",stack:"scale",data:[1],barWidth:"100%",silent:true,itemStyle:{color:c,borderColor:"#aaa",borderWidth:0.6}}))
 ],
 graphic:[
  {type:"rect",z:-10,silent:true,shape:{x:45,y:0,width:892,height:549},style:{fill:"#fff"}},
  {type:"text",x:121,y:12,style:{text:titleText,fill:textCol,font:"24px "+font}},
  ...subtitleLines.map((t,i)=>({type:"text",x:121.5,y:48.5+i*23,style:{text:t,fill:textCol,font:"16.75px "+font}})),
  {type:"group",children:[
   {type:"rect",shape:{x:720,y:48,width:58,height:35},style:{fill:"#404a6c"}},
   {type:"rect",shape:{x:720,y:78,width:58,height:5},style:{fill:"#d4604a"}},
   {type:"text",x:749,y:48.5,scaleX:0.87,style:{text:"Our World",fill:"#fff",align:"center",font:"15px Lato, sans-serif"}},
   {type:"text",x:749,y:62,scaleX:0.87,style:{text:"in Data",fill:"#fff",align:"center",font:"15px Lato, sans-serif"}}]},
  {type:"text",x:349,y:453,style:{text:"Дані",fill:"#444",font:"500 10px Roboto, sans-serif"}},
  {type:"text",x:349,y:466,style:{text:"відсутні",fill:"#444",font:"500 10px Roboto, sans-serif"}},
  {type:"rect",shape:{x:347.5,y:485,width:43,height:10},style:{fill:"#ececec",stroke:"#aaa",lineWidth:1}},
  {type:"rect",z:100,shape:{x:397,y:466,width:7.5,height:16},style:{fill:"#fff"}},
  {type:"text",x:152,y:517,style:{text:"Джерело:",fill:textCol,font:"16.75px "+font}},
  {type:"text",x:231,y:518.5,style:{text:"Gapminder",fill:textCol,font:"14px 'DejaVu Sans', sans-serif"}},
  {type:"text",x:312.5,y:517,style:{text:"– до 1949 р.; Демографічний відділ ООН – з 1950 р.",fill:textCol,font:"16.75px "+font}}
 ]
});
</script></body></html>
